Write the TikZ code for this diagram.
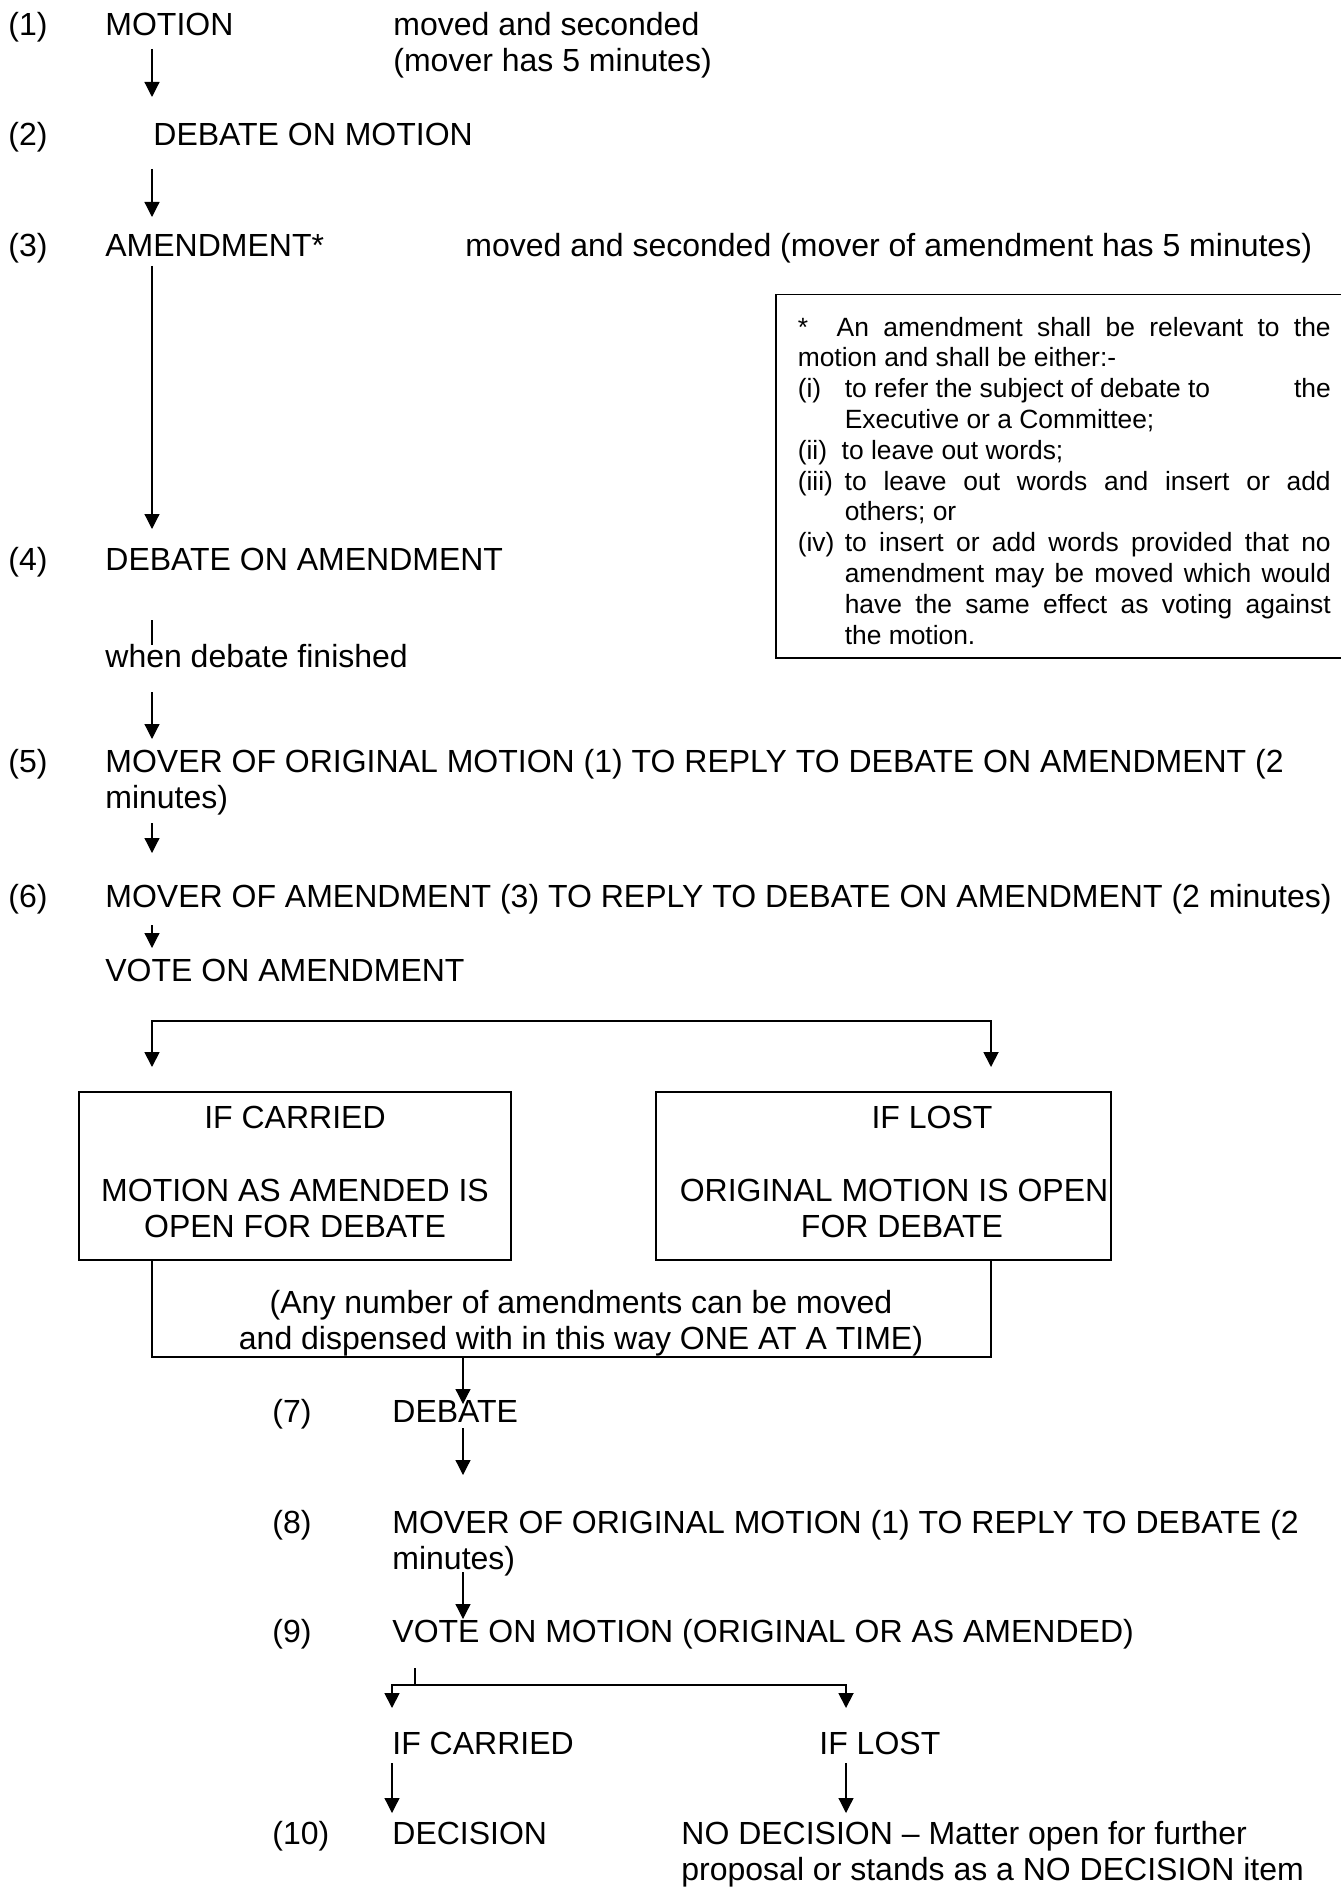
\documentclass[tikz,border=0pt]{standalone}
\usepackage{fontspec}
\setmainfont{Liberation Sans}
\usepackage{tikz}
\usetikzlibrary{positioning, arrows.meta}
\newcommand{\mainsize}{\fontsize{16}{18}\selectfont}
\newcommand{\notesize}{\fontsize{13.2}{15.4}\selectfont}
\newcommand{\notelabel}[1]{\makebox[23.5pt][l]{#1}}
\newcommand{\boxdepth}{\rule[-4.5pt]{0pt}{4.5pt}}

\begin{document}
\begin{tikzpicture}[
	x=0.5pt, y=-0.5pt,
	txt/.style={
		anchor=base west,
		inner sep=0pt,
		align=left,
		font=\mainsize
	},
	arr/.style={
		-{Triangle[length=7.5pt,width=7.5pt]},
		line width=0.6pt
	},
	arrboth/.style={
		{Triangle[length=7.5pt,width=7.5pt]}-{Triangle[length=7.5pt,width=7.5pt]},
		line width=0.9pt
	},
	box/.style={
		draw,
		rectangle,
		line width=0.9pt,
		minimum height=84pt,
		inner sep=0pt,
		align=center,
		font=\mainsize
	},
	note/.style={
		draw,
		rectangle,
		line width=0.75pt,
		anchor=north west,
		text width=266.5pt,
		inner xsep=11pt,
		inner ysep=6.75pt,
		align=justify,
		font=\notesize
	}
	]
	\useasboundingbox (0,0) rectangle (1340,1888);
	
	% Motion
	\node[txt] (n1) at (8,36) {(1)};
	\node[txt] (motion) at (105,36) {MOTION};
	\node[txt] (moved1) at (393,72) {moved and seconded\\(mover has 5 minutes)};
	
	% Debate on motion
	\node[txt] (n2) at (8,146) {(2)};
	\node[txt] (debmotion) at (153,146) {DEBATE ON MOTION};
	
	% Amendment
	\node[txt] (n3) at (8,257) {(3)};
	\node[txt] (amend) at (105,257) {AMENDMENT*};
	\node[txt] (moved3) at (465,257) {moved and seconded (mover of amendment has 5 minutes)};
	
	% Footnote box
	\node[note] (note) at (775,294) {\parindent=0pt
		\rule{0pt}{13.9pt}*\ \ An amendment shall be relevant to the\linebreak
		motion and shall be either:-\par
		\hangindent=23.5pt\hangafter=1
		\notelabel{(i)}to refer the subject of debate to\hfill the\linebreak
		Executive or a Committee;\par
		\hangindent=23.5pt\hangafter=1
		(ii)\ \ to leave out words;\par
		\hangindent=23.5pt\hangafter=1
		\notelabel{(iii)}to leave out words and insert or add\linebreak
		others; or\par
		\hangindent=23.5pt\hangafter=1
		\notelabel{(iv)}to insert or add words provided that no\linebreak
		amendment may be moved which would\linebreak
		have the same effect as voting against\linebreak
		the motion.\par};
	
	% Debate on amendment
	\node[txt] (n4) at (8,570) {(4)};
	\node[txt] (debamend) at (105,570) {DEBATE ON AMENDMENT};
	\node[txt] (finished) at (105,667) {when debate finished};
	
	% Replies
	\node[txt] (n5) at (8,772) {(5)};
	\node[txt] (reply5) at (105,808) {MOVER OF ORIGINAL MOTION (1) TO REPLY TO DEBATE ON AMENDMENT (2\\minutes)};
	\node[txt] (n6) at (8,907) {(6)};
	\node[txt] (reply6) at (105,907) {MOVER OF AMENDMENT (3) TO REPLY TO DEBATE ON AMENDMENT (2 minutes)};
	\node[txt] (voteamend) at (105,981) {VOTE ON AMENDMENT};
	
	% Outcome boxes
	\node[box, minimum width=216pt] (carried) at (295,1176) {IF CARRIED\\[18.5pt]MOTION AS AMENDED IS\\OPEN FOR DEBATE\boxdepth};
	\node[box, minimum width=227.5pt] (lost) at (883.5,1176) {\hspace*{48.5pt}IF LOST\\[18.5pt]\hspace*{10.5pt}ORIGINAL MOTION IS OPEN\\\hspace*{18.5pt}FOR DEBATE\boxdepth};
	\node[txt, anchor=base, align=center] (anynumber) at (581,1349) {(Any number of amendments can be moved\\and dispensed with in this way ONE AT A TIME)};
	
	% Debate and reply
	\node[txt] (n7) at (272,1422) {(7)};
	\node[txt] (debate) at (392,1422) {DEBATE};
	\node[txt] (n8) at (272,1533) {(8)};
	\node[txt] (reply8) at (392,1569) {MOVER OF ORIGINAL MOTION (1) TO REPLY TO DEBATE (2\\minutes)};
	\node[txt] (n9) at (272,1642) {(9)};
	\node[txt] (votemotion) at (392,1642) {VOTE ON MOTION (ORIGINAL OR AS AMENDED)};
	
	% Final outcome
	\node[txt] (ifcarried) at (392,1754) {IF CARRIED};
	\node[txt] (iflost) at (819,1754) {IF LOST};
	\node[txt] (n10) at (272,1844) {(10)};
	\node[txt] (decision) at (392,1844) {DECISION};
	\node[txt] (nodecision) at (681,1880) {NO DECISION -- Matter open for further\\proposal or stands as a NO DECISION item};
	
	% Arrow end points
	\coordinate (a1t) at (152,49);   \coordinate (a1b) at (152,97);
	\coordinate (a2t) at (152,169);  \coordinate (a2b) at (152,217);
	\coordinate (a3t) at (152,266);  \coordinate (a3b) at (152,529);
	\coordinate (t4t) at (152,620);  \coordinate (t4b) at (152,645);
	\coordinate (a4t) at (152,692);  \coordinate (a4b) at (152,739);
	\coordinate (a5t) at (152,823);  \coordinate (a5b) at (152,853);
	\coordinate (a6t) at (152,925);  \coordinate (a6b) at (152,948);
	\coordinate (splitl) at (152,1021); \coordinate (splitr) at (991,1021);
	\coordinate (framel) at (152,1357); \coordinate (framer) at (991,1357);
	\coordinate (a7t) at (463,1357); \coordinate (a7b) at (463,1404);
	\coordinate (a8t) at (463,1428); \coordinate (a8b) at (463,1475);
	\coordinate (a9t) at (463,1572); \coordinate (a9b) at (463,1619);
	\coordinate (t9t) at (415,1668);
	\coordinate (votel) at (392,1685); \coordinate (voter) at (846,1685);
	\coordinate (c10t) at (392,1763); \coordinate (c10b) at (392,1813);
	\coordinate (l10t) at (846,1763); \coordinate (l10b) at (846,1813);
	
	% Connectors
	\draw[arr] (a1t) -- (a1b);
	\draw[arr] (a2t) -- (a2b);
	\draw[arr] (a3t) -- (a3b);
	\draw[line width=0.6pt] (t4t) -- (t4b);
	\draw[arr] (a4t) -- (a4b);
	\draw[arr] (a5t) -- (a5b);
	\draw[arr] (a6t) -- (a6b);
	\draw[arrboth] ([yshift=-23pt]splitl) -- (splitl) -- (splitr) -- ([yshift=-23pt]splitr);
	\draw[line width=0.6pt] (carried.south -| framel) -- (framel) -- (framer) -- (lost.south -| framer);
	\draw[line width=0.9pt] (framel) -- (framer);
	\draw[arr] (a7t) -- (a7b);
	\draw[arr] (a8t) -- (a8b);
	\draw[arr] (a9t) -- (a9b);
	\draw[line width=0.6pt] (t9t) -- (t9t |- votel);
	\draw[arrboth] ([yshift=-11.5pt]votel) -- (votel) -- (voter) -- ([yshift=-11.5pt]voter);
	\draw[arr] (c10t) -- (c10b);
	\draw[arr] (l10t) -- (l10b);
	
\end{tikzpicture}
\end{document}
